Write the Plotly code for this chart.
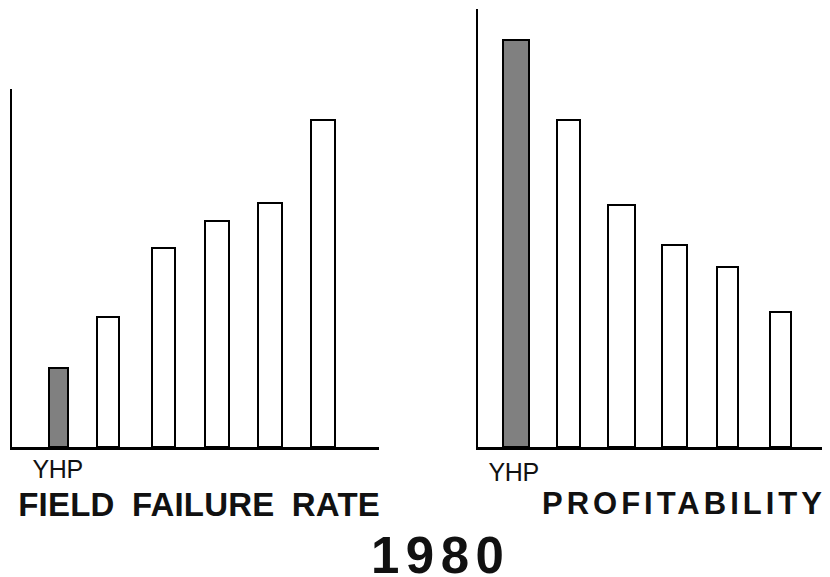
import plotly.graph_objects as go

W, H = 830, 577

# ---- data (relative bar heights) ----
companies = ["YHP", "Co. B", "Co. C", "Co. D", "Co. E", "Co. F"]
failure_rate = [79, 130, 199, 226, 244, 327]
profitability = [407, 327, 242, 202, 180, 135]

title_left = "FIELD FAILURE RATE"
title_right = "PROFITABILITY"
year_label = "1980"
highlight = "YHP"

# ---- styles ----
GRAY = "#808080"
fill_colors = [GRAY if c == highlight else "white" for c in companies]
left_widths = [0.36, 0.42, 0.44, 0.45, 0.44, 0.45]
left_shift = [0.0, -0.06, -0.02, 0.0, 0.0, 0.0]
left_offsets = [-w / 2 + s for w, s in zip(left_widths, left_shift)]
right_widths = [0.50, 0.43, 0.52, 0.47, 0.40, 0.39]

def px(x):
    return x / W

def py(y):
    return 1 - y / H

fig = go.Figure()
fig.add_trace(go.Bar(
    x=companies, y=failure_rate, xaxis="x", yaxis="y",
    width=left_widths, offset=left_offsets,
    marker=dict(color=fill_colors, line=dict(color="black", width=2)),
    hoverinfo="x+y", showlegend=False,
))
fig.add_trace(go.Bar(
    x=companies, y=profitability, xaxis="x2", yaxis="y2",
    width=right_widths,
    marker=dict(color=fill_colors, line=dict(color="black", width=2)),
    hoverinfo="x+y", showlegend=False,
))

axis_common = dict(showgrid=False, zeroline=False, ticks="", showticklabels=False,
                   linecolor="black", showline=True, fixedrange=True)

fig.update_layout(
    width=W, height=H,
    margin=dict(l=0, r=0, t=0, b=0),
    paper_bgcolor="white", plot_bgcolor="white",
    font=dict(family="Liberation Sans, Arial, sans-serif", color="black"),
    xaxis=dict(domain=[px(12), px(379)], range=[-0.879, 6.059], type="category",
               anchor="y", linewidth=3, **axis_common),
    yaxis=dict(domain=[py(447), py(89)], range=[0, 358], anchor="x",
               linewidth=2, **axis_common),
    xaxis2=dict(domain=[px(478), px(822)], range=[-0.716, 5.787], type="category",
                anchor="y2", linewidth=3, **axis_common),
    yaxis2=dict(domain=[py(447), py(9)], range=[0, 438], anchor="x2",
                linewidth=2, **axis_common),
    bargap=0,
)

ann = []
ann.append(dict(text=highlight, xref="x", yref="paper", x=highlight, y=py(469),
                xanchor="center", yanchor="middle", showarrow=False,
                xshift=-1, font=dict(size=25, color="#111")))
ann.append(dict(text=highlight, xref="x2", yref="paper", x=highlight, y=py(471.5),
                xanchor="center", yanchor="middle", showarrow=False,
                xshift=-2, font=dict(size=25, color="#111")))
ann.append(dict(text=title_left, xref="paper", yref="paper", x=px(199), y=py(504.5),
                xanchor="center", yanchor="middle", showarrow=False,
                font=dict(size=33, weight="bold", color="#111")))
ann.append(dict(text=title_right, xref="paper", yref="paper", x=px(684), y=py(503),
                xanchor="center", yanchor="middle", showarrow=False,
                font=dict(size=31, weight="bold", color="#111")))
ann.append(dict(text=year_label, xref="paper", yref="paper", x=px(440), y=py(555.5),
                xanchor="center", yanchor="middle", showarrow=False,
                font=dict(size=51, weight="bold", color="#111")))
fig.update_layout(annotations=ann)

post = """
var gd = document.getElementById('{plot_id}');
gd.querySelectorAll('text.annotation-text').forEach(function(t){
  var s = t.textContent;
  if (s === '1980') { t.setAttribute('letter-spacing', '6.5px'); }
  else if (s === 'PROFITABILITY') { t.setAttribute('letter-spacing', '4px'); }
  else if (s === 'FIELD FAILURE RATE') { t.setAttribute('letter-spacing', '0.2px'); t.setAttribute('word-spacing', '8px'); }
  else if (s === 'YHP') { t.setAttribute('letter-spacing', '-0.3px'); }
});
"""

fig.write_html("out.html", post_script=post, config=dict(displayModeBar=False))
